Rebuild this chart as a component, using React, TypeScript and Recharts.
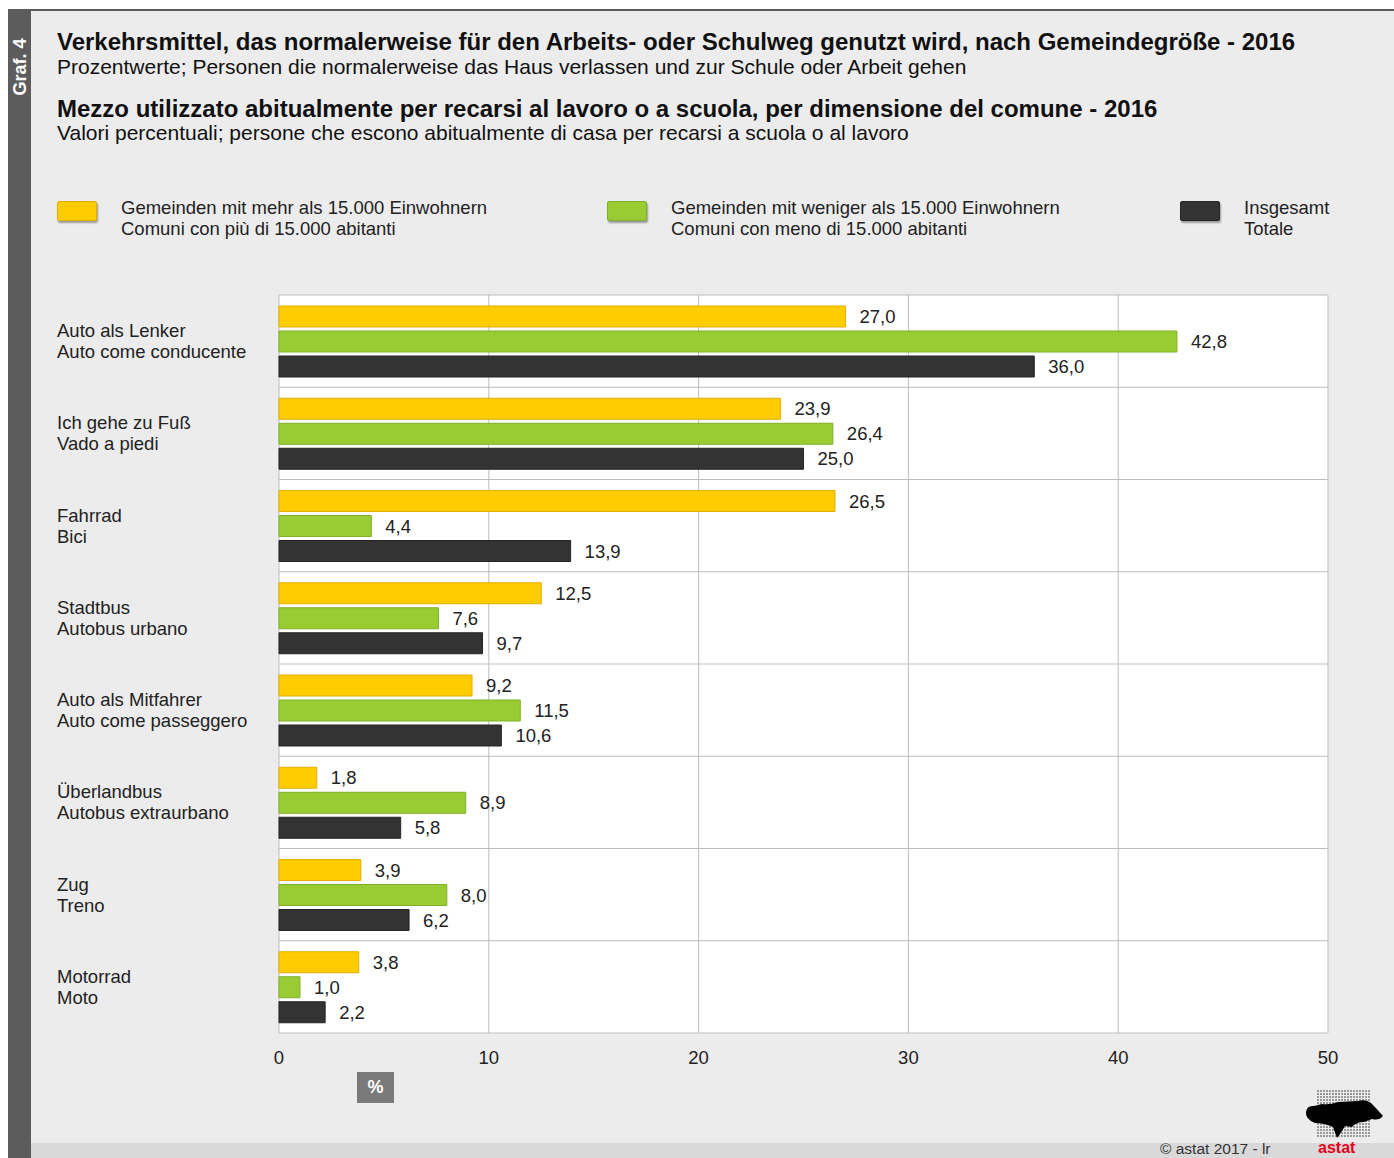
import React from "react";
import { BarChart, Bar, XAxis, YAxis, CartesianGrid, LabelList } from "recharts";

const categoriesDe = [
  "Auto als Lenker",
  "Ich gehe zu Fuß",
  "Fahrrad",
  "Stadtbus",
  "Auto als Mitfahrer",
  "Überlandbus",
  "Zug",
  "Motorrad",
];
const categoriesIt = [
  "Auto come conducente",
  "Vado a piedi",
  "Bici",
  "Autobus urbano",
  "Auto come passeggero",
  "Autobus extraurbano",
  "Treno",
  "Moto",
];
const bigTowns = [27.0, 23.9, 26.5, 12.5, 9.2, 1.8, 3.9, 3.8];
const smallTowns = [42.8, 26.4, 4.4, 7.6, 11.5, 8.9, 8.0, 1.0];
const total = [36.0, 25.0, 13.9, 9.7, 10.6, 5.8, 6.2, 2.2];
const xTicks = [0, 10, 20, 30, 40, 50];

const seriesNames = [
  ["Gemeinden mit mehr als 15.000 Einwohnern", "Comuni con più di 15.000 abitanti"],
  ["Gemeinden mit weniger als 15.000 Einwohnern", "Comuni con meno di 15.000 abitanti"],
  ["Insgesamt", "Totale"],
];

const COLORS = ["#FFCC00", "#99CC33", "#333333"];
const STROKES = ["#E3AE00", "#80B02A", "#262626"];
const FONT = "'Liberation Sans', Arial, Helvetica, sans-serif";
const TXT = 18.5;

const data = categoriesDe.map((de, i) => ({
  name: de,
  it: categoriesIt[i],
  big: bigTowns[i],
  small: smallTowns[i],
  total: total[i],
}));

const fmt = (v: any) => Number(v).toFixed(1).replace(".", ",");

const YTick = (props: any) => {
  const { y, payload, index } = props;
  return (
    <text x={57} y={y} fontFamily={FONT} fontSize={TXT} fill="#222" textAnchor="start">
      <tspan x={57} dy={-4}>{payload.value}</tspan>
      <tspan x={57} dy={21}>{categoriesIt[index]}</tspan>
    </text>
  );
};

const hGen = ({ offset }: any) => {
  const n = categoriesDe.length;
  const arr: number[] = [];
  for (let i = 0; i <= n; i++) arr.push(offset.top + (offset.height * i) / n);
  return arr;
};

const Legend = () => {
  const xs = [[57, 121], [607, 671], [1180, 1244]];
  return (
    <>
      {seriesNames.map((s, i) => (
        <React.Fragment key={i}>
          <div
            style={{
              position: "absolute",
              left: xs[i][0],
              top: 201,
              width: 40,
              height: 20,
              background: COLORS[i],
              border: `1px solid ${STROKES[i]}`,
              boxSizing: "border-box",
              boxShadow: "1px 2px 2px rgba(0,0,0,0.35)",
              borderRadius: 2,
            }}
          />
          <div
            style={{
              position: "absolute",
              left: xs[i][1],
              top: 197,
              fontSize: TXT,
              lineHeight: "21px",
              color: "#222",
              whiteSpace: "nowrap",
            }}
          >
            {s[0]}
            <br />
            {s[1]}
          </div>
        </React.Fragment>
      ))}
    </>
  );
};

const Logo = () => {
  const dots: React.ReactNode[] = [];
  for (let r = 0; r < 16; r++) {
    for (let c = 0; c < 18; c++) {
      dots.push(<circle key={`${r}-${c}`} cx={1318 + c * 3} cy={1091 + r * 3} r={0.8} fill="#333" />);
    }
  }
  return (
    <svg style={{ position: "absolute", left: 0, top: 0 }} width={1394} height={1158}>
      {dots}
      <path
        d="M1306,1112 Q1307,1105 1314,1106 L1322,1104 Q1330,1105 1338,1102 L1358,1101 Q1366,1099 1371,1103 Q1377,1109 1383,1116 Q1379,1121 1372,1119 L1364,1122 Q1356,1122 1352,1127 L1345,1126 Q1341,1133 1337,1138 L1333,1127 Q1324,1123 1315,1123 Q1305,1119 1306,1112 Z"
        fill="#000"
      />
      <text x={1318} y={1153} fontFamily={FONT} fontWeight="bold" fontSize={16} fill="#E3001B">
        astat
      </text>
    </svg>
  );
};

export default function App() {
  return (
    <div
      style={{
        position: "absolute",
        left: 0,
        top: 0,
        width: 1394,
        height: 1158,
        background: "#fff",
        overflow: "hidden",
        fontFamily: FONT,
      }}
    >
      <div style={{ position: "absolute", left: 8, top: 9, width: 1386, height: 1149, background: "#ECECEC" }} />
      <div style={{ position: "absolute", left: 8, top: 9, width: 1386, height: 2, background: "#5a5a5a" }} />
      <div style={{ position: "absolute", left: 8, top: 9, width: 23, height: 1149, background: "#5c5c5c" }} />
      <div style={{ position: "absolute", left: 31, top: 1143, width: 1363, height: 15, background: "#D9D9D9" }} />
      <div
        style={{
          position: "absolute",
          left: 20,
          top: 67,
          transform: "translate(-50%, -50%) rotate(-90deg)",
          color: "#fff",
          fontWeight: "bold",
          fontSize: 18,
          whiteSpace: "nowrap",
        }}
      >
        Graf. 4
      </div>

      <div style={{ position: "absolute", left: 57, top: 28, fontSize: 24, fontWeight: "bold", color: "#111", whiteSpace: "nowrap" }}>
        Verkehrsmittel, das normalerweise für den Arbeits- oder Schulweg genutzt wird, nach Gemeindegröße - 2016
      </div>
      <div style={{ position: "absolute", left: 57, top: 55, fontSize: 21, color: "#111", whiteSpace: "nowrap" }}>
        Prozentwerte; Personen die normalerweise das Haus verlassen und zur Schule oder Arbeit gehen
      </div>
      <div style={{ position: "absolute", left: 57, top: 95, fontSize: 24, fontWeight: "bold", color: "#111", whiteSpace: "nowrap" }}>
        Mezzo utilizzato abitualmente per recarsi al lavoro o a scuola, per dimensione del comune - 2016
      </div>
      <div style={{ position: "absolute", left: 57, top: 121, fontSize: 21, color: "#111", whiteSpace: "nowrap" }}>
        Valori percentuali; persone che escono abitualmente di casa per recarsi a scuola o al lavoro
      </div>

      <Legend />

      <div style={{ position: "absolute", left: 0, top: 0 }}>
        <BarChart
          width={1394}
          height={1158}
          data={data}
          layout="vertical"
          margin={{ top: 295, right: 66, bottom: 85, left: 0 }}
          barSize={21}
          barGap={4}
        >
          <CartesianGrid
            fill="#ffffff"
            stroke="#bdbdbd"
            strokeWidth={1}
            horizontalCoordinatesGenerator={hGen}
          />
          <XAxis
            type="number"
            domain={[0, 50]}
            ticks={xTicks}
            axisLine={false}
            tickLine={false}
            tickSize={6}
            tickMargin={12}
            height={40}
            tick={{ fontSize: TXT, fill: "#222", fontFamily: FONT }}
          />
          <YAxis
            type="category"
            dataKey="name"
            width={279}
            axisLine={false}
            tickLine={false}
            tick={<YTick />}
            interval={0}
          />
          <Bar dataKey="big" fill={COLORS[0]} stroke={STROKES[0]} strokeWidth={1} isAnimationActive={false}>
            <LabelList dataKey="big" position="right" offset={14} formatter={fmt} fontSize={TXT} fill="#222" fontFamily={FONT} />
          </Bar>
          <Bar dataKey="small" fill={COLORS[1]} stroke={STROKES[1]} strokeWidth={1} isAnimationActive={false}>
            <LabelList dataKey="small" position="right" offset={14} formatter={fmt} fontSize={TXT} fill="#222" fontFamily={FONT} />
          </Bar>
          <Bar dataKey="total" fill={COLORS[2]} stroke={STROKES[2]} strokeWidth={1} isAnimationActive={false}>
            <LabelList dataKey="total" position="right" offset={14} formatter={fmt} fontSize={TXT} fill="#222" fontFamily={FONT} />
          </Bar>
        </BarChart>
      </div>

      <div
        style={{
          position: "absolute",
          left: 357,
          top: 1072,
          width: 37,
          height: 31,
          background: "#7a7a7a",
          color: "#fff",
          fontWeight: "bold",
          fontSize: 18,
          lineHeight: "31px",
          textAlign: "center",
        }}
      >
        %
      </div>

      <div style={{ position: "absolute", left: 1160, top: 1140, fontSize: 15.5, lineHeight: "17px", color: "#333", whiteSpace: "nowrap" }}>
        © astat 2017 - lr
      </div>
      <Logo />
    </div>
  );
}
